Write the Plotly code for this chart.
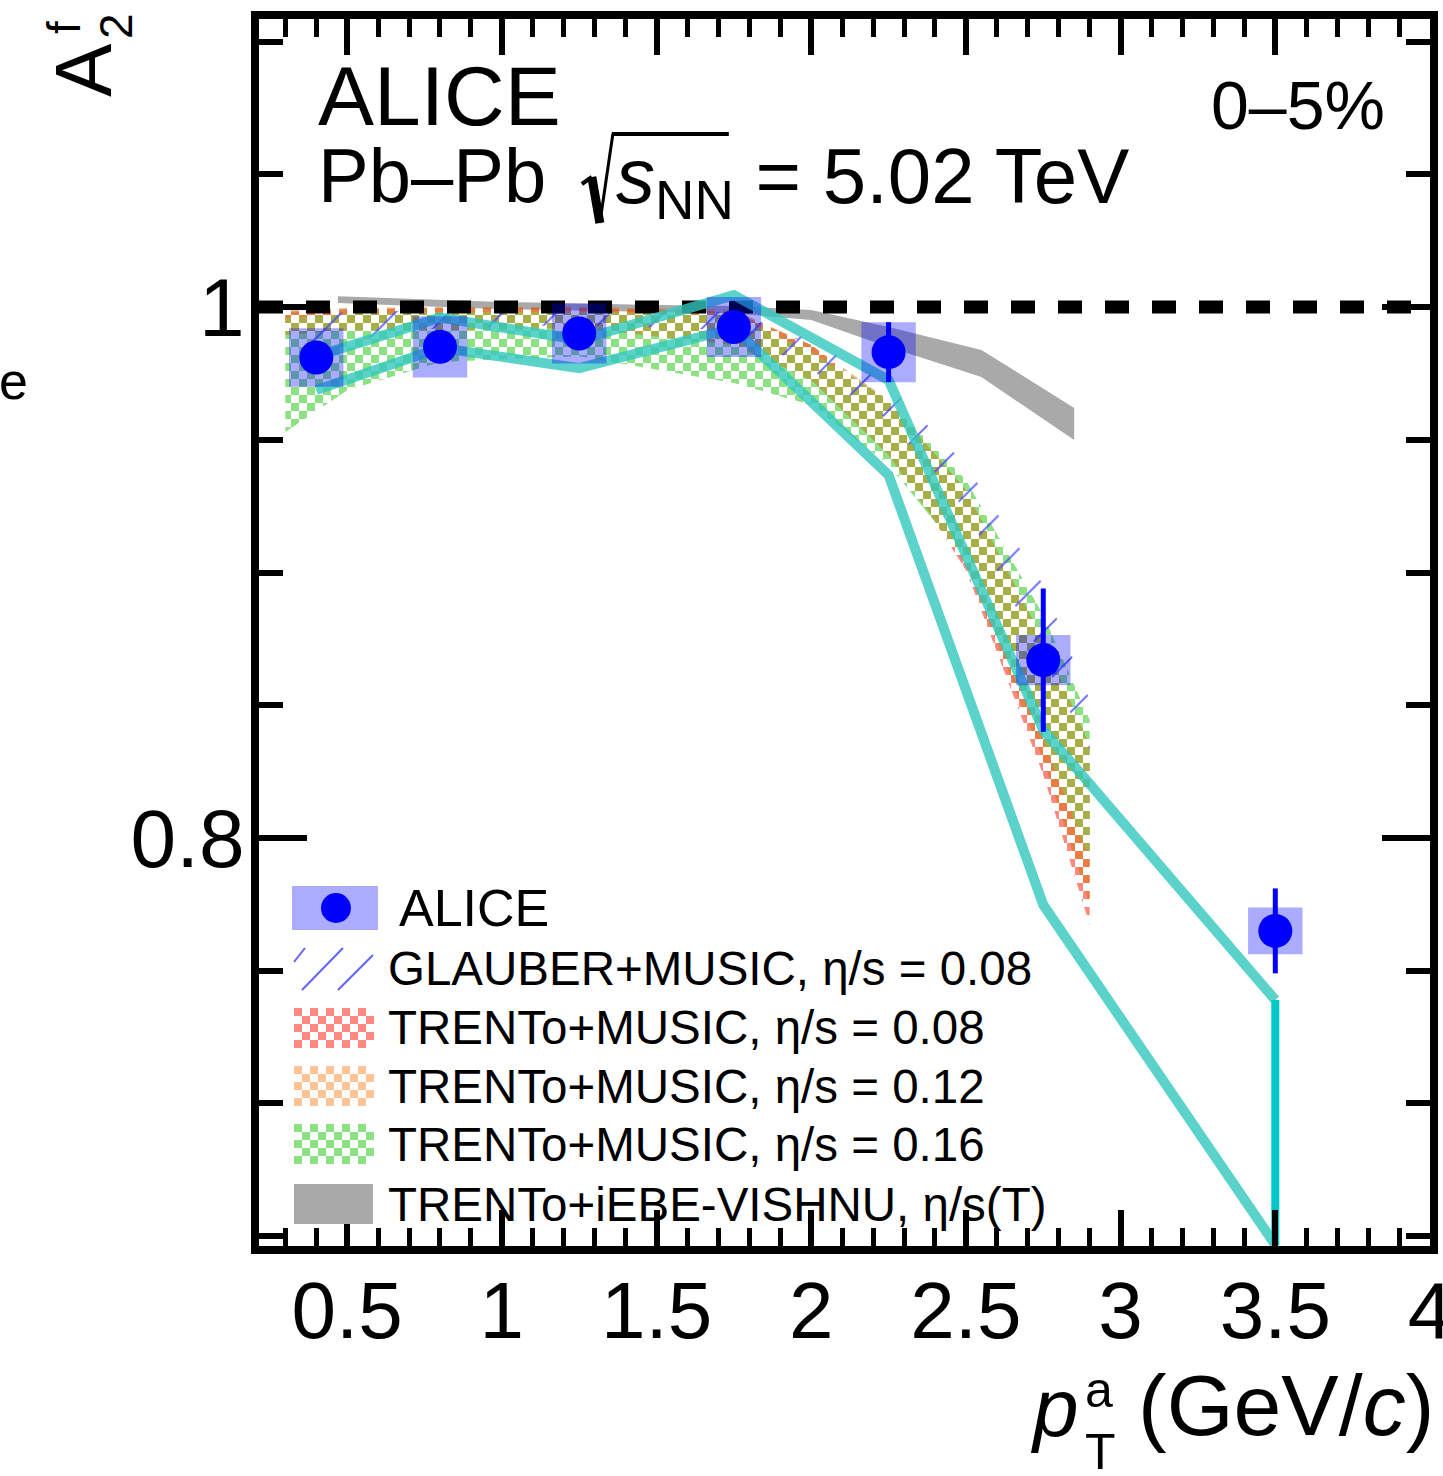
import plotly.graph_objects as go

FONT = "Liberation Sans, Arial, Helvetica, sans-serif"

# ---------------- data ----------------
pt = [0.4, 0.8, 1.25, 1.75, 2.25, 2.75, 3.5]
a2f = [0.981, 0.985, 0.990, 0.9925, 0.983, 0.867, 0.765]
stat_err = [0.004, 0.004, 0.004, 0.004, 0.0113, 0.027, 0.016]
syst_err = [0.011, 0.0115, 0.0113, 0.0113, 0.0113, 0.0095, 0.0088]
syst_halfwidth = 0.088

cyan_upper = [0.9815, 0.996, 0.9876, 1.0045, 0.9725, 0.8407, 0.739]
cyan_lower = [0.9687, 0.9846, 0.977, 0.992, 0.9367, 0.7748, 0.6467]

model_pt = [0.3, 0.5, 0.8, 1.25, 1.75, 2.0, 2.25, 2.5, 2.75, 2.9]
glauber_hi = [0.9959, 0.9981, 0.9989, 0.9989, 0.9981, 0.9876, 0.9706, 0.9405, 0.8953, 0.8520]
glauber_lo = [0.9831, 0.9876, 0.9921, 0.9932, 0.9913, 0.9763, 0.9574, 0.9235, 0.8670, 0.8331]
trento008_hi = [0.9981, 0.9992, 0.9996, 0.9996, 0.9981, 0.9857, 0.9631, 0.9292, 0.8708, 0.8294]
trento008_lo = [0.9913, 0.9928, 0.9936, 0.9944, 0.9895, 0.9755, 0.9461, 0.9009, 0.8237, 0.7672]
trento012_hi = [0.9989, 0.9996, 1.0, 1.0, 0.9989, 0.9857, 0.9650, 0.9311, 0.8746, 0.8350]
trento012_lo = [0.9895, 0.9913, 0.9913, 0.9921, 0.9857, 0.9725, 0.9443, 0.9028, 0.8294, 0.7748]
trento016_hi = [0.9959, 0.9974, 0.9981, 0.9981, 0.9970, 0.9831, 0.9650, 0.9348, 0.8840, 0.8444]
trento016_lo = [0.9529, 0.9687, 0.9793, 0.9815, 0.9714, 0.9631, 0.9405, 0.9047, 0.8369, 0.7917]

vishnu_pt = [0.47, 1.0, 1.5, 1.75, 2.0, 2.25, 2.55, 2.85]
vishnu_hi = [1.0041, 1.0019, 1.0008, 1.0004, 0.9989, 0.9925, 0.9838, 0.9620]
vishnu_lo = [1.0015, 0.9992, 0.9981, 0.9977, 0.9951, 0.9849, 0.9736, 0.9499]

unity = 1.0
x_range = [0.215, 4.0]
y_range = [0.6463, 1.1085]

legend_labels = [
    "ALICE",
    "GLAUBER+MUSIC, η/s = 0.08",
    "TRENTo+MUSIC, η/s = 0.08",
    "TRENTo+MUSIC, η/s = 0.12",
    "TRENTo+MUSIC, η/s = 0.16",
    "TRENTo+iEBE-VISHNU, η/s(T)",
]

# ---------------- colours ----------------
C_RED = "rgba(255,40,20,0.55)"
C_ORANGE = "rgba(200,110,0,0.45)"
C_GREEN = "rgb(140,225,130)"
C_HATCH = "rgba(70,70,255,0.85)"
C_GRAY = "#a9a9a9"
C_CYAN = "rgba(50,200,190,0.8)"
C_BOX = "rgba(0,0,255,0.33)"
CHECK = "M0,0h8v8h-8zM8,8h8v8h-8z"


def band(x, hi, lo, name, **kw):
    return go.Scatter(
        x=list(x) + list(x)[::-1],
        y=list(hi) + list(lo)[::-1],
        fill="toself", mode="lines", line=dict(width=0),
        name=name, hoverinfo="skip", **kw)


def checkfill(color):
    return dict(path=CHECK, size=16, fgcolor=color, bgcolor="rgba(0,0,0,0)", fillmode="replace")


fig = go.Figure()

fig.add_trace(band(vishnu_pt, vishnu_hi, vishnu_lo, legend_labels[5], fillcolor=C_GRAY))
fig.add_trace(band(model_pt, trento008_hi, trento008_lo, legend_labels[2],
                   fillcolor="rgba(0,0,0,0)", fillpattern=checkfill(C_RED)))
fig.add_trace(band(model_pt, trento016_hi, trento016_lo, legend_labels[4],
                   fillcolor="rgba(0,0,0,0)", fillpattern=checkfill(C_GREEN)))
fig.add_trace(band(model_pt, trento012_hi, trento012_lo, legend_labels[3],
                   fillcolor="rgba(0,0,0,0)", fillpattern=checkfill(C_ORANGE)))
fig.add_trace(band(model_pt, glauber_hi, glauber_lo, legend_labels[1],
                   fillcolor="rgba(0,0,0,0)",
                   fillpattern=dict(shape="/", size=38, solidity=0.05, fgcolor=C_HATCH,
                                    bgcolor="rgba(0,0,0,0)", fillmode="replace")))

# unity reference line
fig.add_trace(go.Scatter(x=x_range, y=[unity, unity], mode="lines",
                         line=dict(color="black", width=13, dash="24px,23px"),
                         hoverinfo="skip"))

# cyan band outline
fig.add_trace(go.Scatter(x=pt, y=cyan_upper, mode="lines",
                         line=dict(color=C_CYAN, width=10), hoverinfo="skip"))
fig.add_trace(go.Scatter(x=pt, y=cyan_lower, mode="lines",
                         line=dict(color=C_CYAN, width=10), hoverinfo="skip"))
fig.add_trace(go.Scatter(x=[pt[-1], pt[-1]], y=[cyan_upper[-1], cyan_lower[-1]], mode="lines",
                         line=dict(color="#00c8c8", width=8), hoverinfo="skip"))

# systematic boxes
bx, by = [], []
for x, y, s in zip(pt, a2f, syst_err):
    bx += [x - syst_halfwidth, x + syst_halfwidth, x + syst_halfwidth, x - syst_halfwidth,
           x - syst_halfwidth, None]
    by += [y - s, y - s, y + s, y + s, y - s, None]
fig.add_trace(go.Scatter(x=bx, y=by, fill="toself", fillcolor=C_BOX, mode="lines",
                         line=dict(width=0), hoverinfo="skip"))

# data points
fig.add_trace(go.Scatter(x=pt, y=a2f, mode="markers", name=legend_labels[0],
                         marker=dict(size=34, color="#0000ff"),
                         error_y=dict(type="data", array=stat_err, thickness=5, width=0,
                                      color="#0000ff")))

# ---------------- layout helpers ----------------
L, R, T, B = 259, 1430.5, 19, 1246
W, H = R - L, B - T


def px(x):
    return (x - L) / W


def py(y):
    return (B - y) / H


annotations = []


def txt(s, x, y, size, xanchor="left", yanchor="middle", angle=0):
    annotations.append(dict(text=s, x=px(x), y=py(y), xref="paper", yref="paper",
                            xanchor=xanchor, yanchor=yanchor, showarrow=False,
                            textangle=angle, font=dict(family=FONT, size=size, color="black")))


shapes = []


def rect(x0, y0, x1, y1, color):
    shapes.append(dict(type="rect", xref="paper", yref="paper", x0=px(x0), x1=px(x1),
                       y0=py(y1), y1=py(y0), fillcolor=color, line=dict(width=0)))


def seg(x0, y0, x1, y1, color, width):
    shapes.append(dict(type="line", xref="paper", yref="paper", x0=px(x0), x1=px(x1),
                       y0=py(y0), y1=py(y1), line=dict(color=color, width=width)))


def checker(x0, y0, color, nx=10, ny=5, s=8):
    for i in range(nx):
        for j in range(ny):
            if (i + j) % 2 == 0:
                rect(x0 + i * s, y0 + j * s, x0 + (i + 1) * s, y0 + (j + 1) * s, color)


# header texts
txt("ALICE", 316, 96, 84)
txt("Pb–Pb", 316, 175, 76)
txt("<i>s</i><sub>NN</sub> = 5.02 TeV", 614, 181, 78)
txt("0–5%", 1387, 105, 68, xanchor="right")
# radical sign
seg(582, 184, 592, 177, "black", 4)
seg(592, 177, 600, 223, "black", 9)
seg(600, 223, 613, 134, "black", 3)
seg(612, 134, 729, 134, "black", 4)

# axis titles
txt("<i>p</i>", 1028, 1407, 82)
txt("a", 1099, 1390, 50, xanchor="center")
txt("T", 1101, 1452, 50, xanchor="center")
txt("(GeV/<i>c</i>)", 1437, 1405, 86, xanchor="right")
txt("A", 83, 70, 80, xanchor="center", angle=-90)
txt("2", 116, 26, 46, xanchor="center", angle=-90)
txt("f", 64, 28, 46, xanchor="center", angle=-90)
txt("e", -3, 381, 52)

# legend
rect(292, 886, 378, 930, C_BOX)
shapes.append(dict(type="circle", xref="paper", yref="paper", x0=px(321), x1=px(351),
                   y0=py(923), y1=py(893), fillcolor="#0000ff", line=dict(width=0)))
txt(legend_labels[0], 397, 908, 52)
seg(294, 962, 305, 948, C_HATCH, 2)
seg(302, 990, 343, 948, C_HATCH, 2)
seg(338, 990, 373, 955, C_HATCH, 2)
txt(legend_labels[1], 386, 968, 47.5)
checker(294, 1008, "rgb(255,137,126)")
txt(legend_labels[2], 386, 1027, 47.5)
checker(294, 1066, "rgb(255,195,150)")
txt(legend_labels[3], 386, 1086, 47.5)
checker(294, 1124, C_GREEN)
txt(legend_labels[4], 386, 1144, 47.5)
rect(294, 1184, 373, 1224, C_GRAY)
txt(legend_labels[5], 386, 1204, 47.5)

axis_common = dict(showline=True, linewidth=8, linecolor="black", mirror="ticks",
                   ticks="inside", tickcolor="black", showgrid=False, zeroline=False,
                   automargin=False, ticklabeloverflow="allow")

fig.update_layout(
    width=1443, height=1476,
    margin=dict(l=L, r=1443 - R, t=T, b=1476 - B, autoexpand=False),
    paper_bgcolor="white", plot_bgcolor="white",
    showlegend=False,
    font=dict(family=FONT, color="black"),
    xaxis=dict(range=x_range, tick0=0, dtick=0.5, ticklen=36, tickwidth=6,
               tickfont=dict(size=80, family=FONT, color="black"),
               ticklabelstandoff=-12,
               minor=dict(dtick=0.1, tick0=0, ticks="inside", ticklen=18, tickwidth=5,
                          tickcolor="black", showgrid=False),
               **axis_common),
    yaxis=dict(range=y_range, tick0=0.8, dtick=0.2, ticklen=48, tickwidth=6,
               tickfont=dict(size=82, family=FONT, color="black"),
               ticklabelstandoff=-10,
               minor=dict(dtick=0.05, tick0=0.65, ticks="inside", ticklen=24, tickwidth=6,
                          tickcolor="black", showgrid=False),
               **axis_common),
    annotations=annotations,
    shapes=shapes,
)

fig.write_html("out.html")
